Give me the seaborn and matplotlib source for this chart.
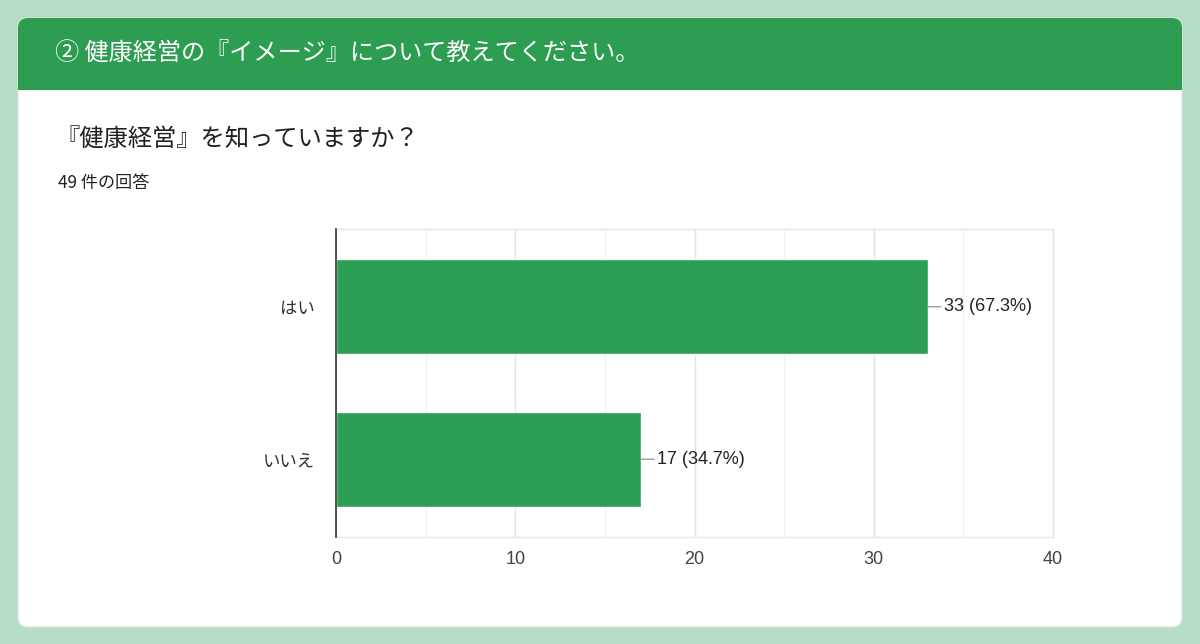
import matplotlib
matplotlib.use('Agg')
import matplotlib.pyplot as plt
import seaborn as sns
import pandas as pd
from matplotlib.patches import FancyBboxPatch, Rectangle

# data
answers = ['はい', 'いいえ']
counts = [33, 17]
percents = [67.3, 34.7]
x_ticks = [0, 10, 20, 30, 40]

header_text = '② 健康経営の『イメージ』について教えてください。'
question_text = '『健康経営』を知っていますか？'
responses_text = '49 件の回答'

sns.set_theme(style='white')
plt.rcParams['font.family'] = ['Noto Sans CJK JP', 'DejaVu Sans']

bg_green = '#b7dcc5'
head_green = '#2d9d52'
bar_green = '#2c9e53'

W, H = 1200, 644
fig = plt.figure(figsize=(W / 100, H / 100), dpi=100, facecolor=bg_green)

# backdrop in pixel coords
bg = fig.add_axes([0, 0, 1, 1], zorder=0)
bg.set_xlim(0, W)
bg.set_ylim(H, 0)
bg.axis('off')
bg.add_patch(FancyBboxPatch((18, 18), 1164, 609, boxstyle='round,pad=0,rounding_size=10',
                            facecolor='white', edgecolor='#d8e8dc', lw=1))
bg.add_patch(FancyBboxPatch((18, 18), 1164, 72, boxstyle='round,pad=0,rounding_size=10',
                            facecolor=head_green, edgecolor='none'))
bg.add_patch(Rectangle((18, 60), 1164, 30, facecolor=head_green, edgecolor='none'))
bg.text(55, 53, header_text, color='white', fontsize=17.4, va='center', ha='left')
bg.text(55, 139, question_text, color='#202124', fontsize=17.5, va='center', ha='left')
bg.text(58, 183, responses_text, color='#202124', fontsize=12.3, va='center', ha='left')

# chart
df = pd.DataFrame({'answer': answers, 'count': counts})
ax = fig.add_axes([336 / W, (H - 537) / H, (1053 - 336) / W, 308 / H], zorder=1)
ax.set_facecolor('none')
sns.barplot(data=df, x='count', y='answer', orient='h', color=bar_green,
            saturation=1, width=0.62, ax=ax, zorder=3)

ax.set_xlim(0, 40)
ax.set_ylim(1.51, -0.51)
ax.set_xticks(x_ticks)
ax.set_xticks([5, 15, 25, 35], minor=True)
ax.set_xticklabels([str(t) for t in x_ticks], family='Liberation Sans', fontsize=13, color='#444444')
ax.grid(axis='x', which='major', color='#e3e3e3', lw=1, zorder=0)
ax.grid(axis='x', which='minor', color='#f2f2f2', lw=1, zorder=0)
ax.set_axisbelow(True)
ax.tick_params(axis='both', which='both', length=0)
ax.tick_params(axis='x', pad=10)
ax.tick_params(axis='y', pad=15, labelsize=12.5, labelcolor='#333333')
ax.set_xlabel('')
ax.set_ylabel('')
for side in ['top', 'right', 'bottom']:
    ax.spines[side].set_color('#e6e6e6')
    ax.spines[side].set_linewidth(1)
ax.spines['left'].set_color('#333333')
ax.spines['left'].set_linewidth(1.2)
ax.spines['left'].set_zorder(4)

for i, (c, p) in enumerate(zip(counts, percents)):
    ax.annotate(f'{c} ({p}%)', xy=(c, i), xytext=(12, 0), textcoords='offset points',
                va='center', ha='left', fontsize=13, color='#222222', family='Liberation Sans',
                arrowprops=dict(arrowstyle='-', color='#9e9e9e', lw=1, shrinkA=0, shrinkB=0))

fig.savefig('out.png', dpi=100, facecolor=bg_green)
